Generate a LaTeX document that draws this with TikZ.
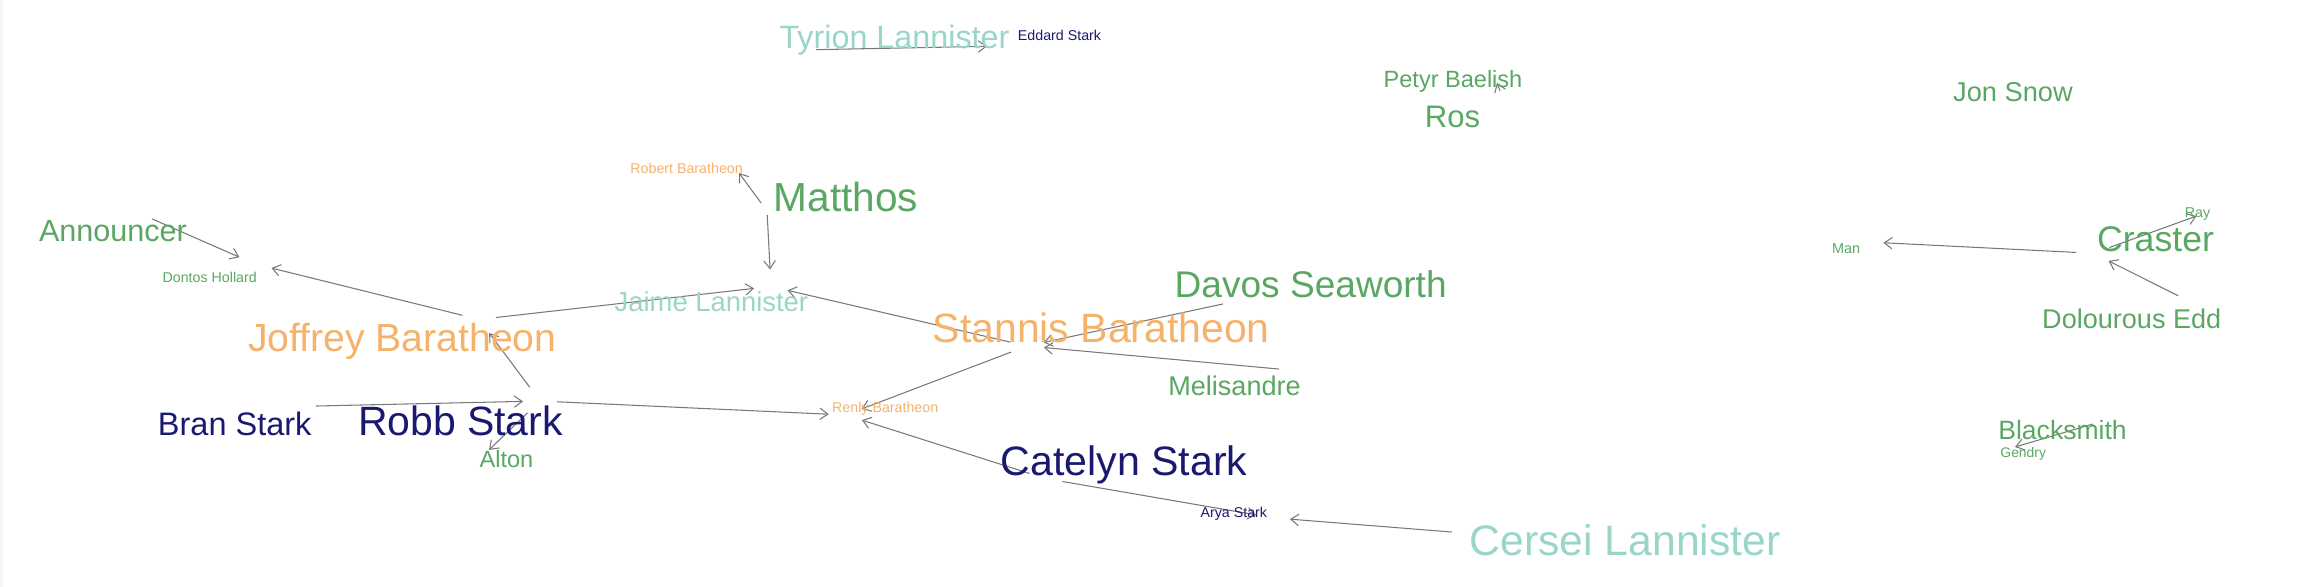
\documentclass[tikz,border=0pt]{standalone}
\usepackage{fontspec}
\setmainfont{Liberation Sans}
\usetikzlibrary{arrows.meta}
\definecolor{gotgreen}{RGB}{89,167,98}
\definecolor{gotorange}{RGB}{244,178,106}
\definecolor{gotteal}{RGB}{153,213,201}
\definecolor{gotnavy}{RGB}{25,25,112}
\definecolor{edgegray}{RGB}{120,120,120}
\definecolor{stripgray}{RGB}{246,246,246}
\newcommand\fsz[1]{\fontsize{#1}{#1}\selectfont}
\begin{document}
\begin{tikzpicture}[x=0.02cm,y=-0.02cm,
  lbl/.style={anchor=base,inner sep=0pt,outer sep=0pt,yshift=-0.04cm},
  grn/.style={lbl,text=gotgreen},
  org/.style={lbl,text=gotorange},
  tea/.style={lbl,text=gotteal},
  nav/.style={lbl,text=gotnavy},
  edge/.style={draw=edgegray,line width=0.6pt,-{Straight Barb[length=4.5pt,width=6.5pt]},shorten <=0.34cm,shorten >=0.34cm}]
\useasboundingbox (0,0) rectangle (2318,587);
\fill[stripgray] (0,0) rectangle (3,587);

% graph vertices
\coordinate (vtyrion) at (799,50);
\coordinate (veddard) at (1004,46);
\coordinate (vros) at (1506,107);
\coordinate (vpetyr) at (1491,67);
\coordinate (vmatthos) at (767,211);
\coordinate (vrobert) at (728.9,159.3);
\coordinate (vjaime) at (771,286.5);
\coordinate (vannouncer) at (136.5,212.1);
\coordinate (vdontos) at (255,264);
\coordinate (vjoffrey) at (479,319.4);
\coordinate (vrobb) at (540,401);
\coordinate (vbran) at (299,406.4);
\coordinate (valton) at (476.7,461.7);
\coordinate (vrenly) at (845.7,415);
\coordinate (vstannis) at (1027,346);
\coordinate (vdavos) at (1239.6,300.4);
\coordinate (vmelisandre) at (1295.9,370.6);
\coordinate (vcatelyn) at (1045.7,478.6);
\coordinate (varya) at (1273,517.8);
\coordinate (vcersei) at (1469,533.4);
\coordinate (vcraster) at (2093.4,253.3);
\coordinate (vman) at (1866.4,241.9);
\coordinate (vray) at (2212.4,210.3);
\coordinate (vedd) at (2193.3,303.4);
\coordinate (vblacksmith) at (2109.3,419.2);
\coordinate (vgendry) at (1998.7,451.8);

% edges
\draw[edge] (vtyrion) -- (veddard);
\draw[edge] (vros) -- (vpetyr);
\draw[edge,shorten <=0.2cm] (vmatthos) -- (vrobert);
\draw[edge,shorten <=0.08cm] (vmatthos) -- (vjaime);
\draw[edge] (vannouncer) -- (vdontos);
\draw[edge] (vjoffrey) -- (vdontos);
\draw[edge] (vjoffrey) -- (vjaime);
\draw[edge] (vrobb) -- (vjoffrey);
\draw[edge] (vbran) -- (vrobb);
\draw[edge] (vrobb) -- (valton);
\draw[edge] (vrobb) -- (vrenly);
\draw[edge] (vstannis) -- (vjaime);
\draw[edge] (vstannis) -- (vrenly);
\draw[edge] (vdavos) -- (vstannis);
\draw[edge] (vmelisandre) -- (vstannis);
\draw[edge] (vcatelyn) -- (vrenly);
\draw[edge] (vcatelyn) -- (varya);
\draw[edge] (vcersei) -- (varya);
\draw[edge] (vcraster) -- (vman);
\draw[edge] (vcraster) -- (vray);
\draw[edge] (vedd) -- (vcraster);
\draw[edge] (vblacksmith) -- (vgendry);

% labels
\node[tea,font=\fsz{18.4}] (tyrion) at (894.5,46.7) {Tyrion Lannister};
\node[nav,font=\fsz{8.1}] (eddard) at (1059.5,39) {Eddard Stark};
\node[grn,font=\fsz{13.4}] (petyr) at (1453,85.7) {Petyr Baelish};
\node[grn,font=\fsz{17.7}] (ros) at (1452.5,126) {Ros};
\node[grn,font=\fsz{15.5}] (jon) at (2013,100) {Jon Snow};
\node[org,font=\fsz{8.1}] (robert) at (686.6,171.7) {Robert Baratheon};
\node[grn,font=\fsz{23.1}] (matthos) at (846,210) {Matthos};
\node[grn,font=\fsz{17.4}] (announcer) at (113,239.3) {Announcer};
\node[grn,font=\fsz{8.1}] (dontos) at (209.7,280.7) {Dontos Hollard};
\node[grn,font=\fsz{8.2}] (man) at (1846,251.7) {Man};
\node[grn,font=\fsz{8.1}] (ray) at (2197.5,216) {Ray};
\node[grn,font=\fsz{20.3}] (craster) at (2155.5,250) {Craster};
\node[tea,font=\fsz{15.6}] (jaime) at (711.4,310) {Jaime Lannister};
\node[grn,font=\fsz{21.1}] (davos) at (1310.7,296) {Davos Seaworth};
\node[org,font=\fsz{22.3}] (joffrey) at (402.3,349.3) {Joffrey Baratheon};
\node[org,font=\fsz{23.3}] (stannis) at (1101.3,341) {Stannis Baratheon};
\node[grn,font=\fsz{15.4}] (edd) at (2131.7,326.7) {Dolourous Edd};
\node[grn,font=\fsz{15.4}] (melisandre) at (1234.5,393.3) {Melisandre};
\node[org,font=\fsz{8.1}] (renly) at (885.2,410.7) {Renly Baratheon};
\node[nav,font=\fsz{18.5}] (bran) at (234.7,433.3) {Bran Stark};
\node[nav,font=\fsz{23.3}] (robb) at (460.5,433.3) {Robb Stark};
\node[grn,font=\fsz{13.4}] (alton) at (506.4,465) {Alton};
\node[grn,font=\fsz{15.1}] (blacksmith) at (2062.5,437.3) {Blacksmith};
\node[grn,font=\fsz{7.9}] (gendry) at (2023.2,455) {Gendry};
\node[nav,font=\fsz{23.4}] (catelyn) at (1124,473.3) {Catelyn Stark};
\node[nav,font=\fsz{8.1}] (arya) at (1233.8,515) {Arya Stark};
\node[tea,font=\fsz{24.3}] (cersei) at (1625.2,553.3) {Cersei Lannister};
\end{tikzpicture}
\end{document}
